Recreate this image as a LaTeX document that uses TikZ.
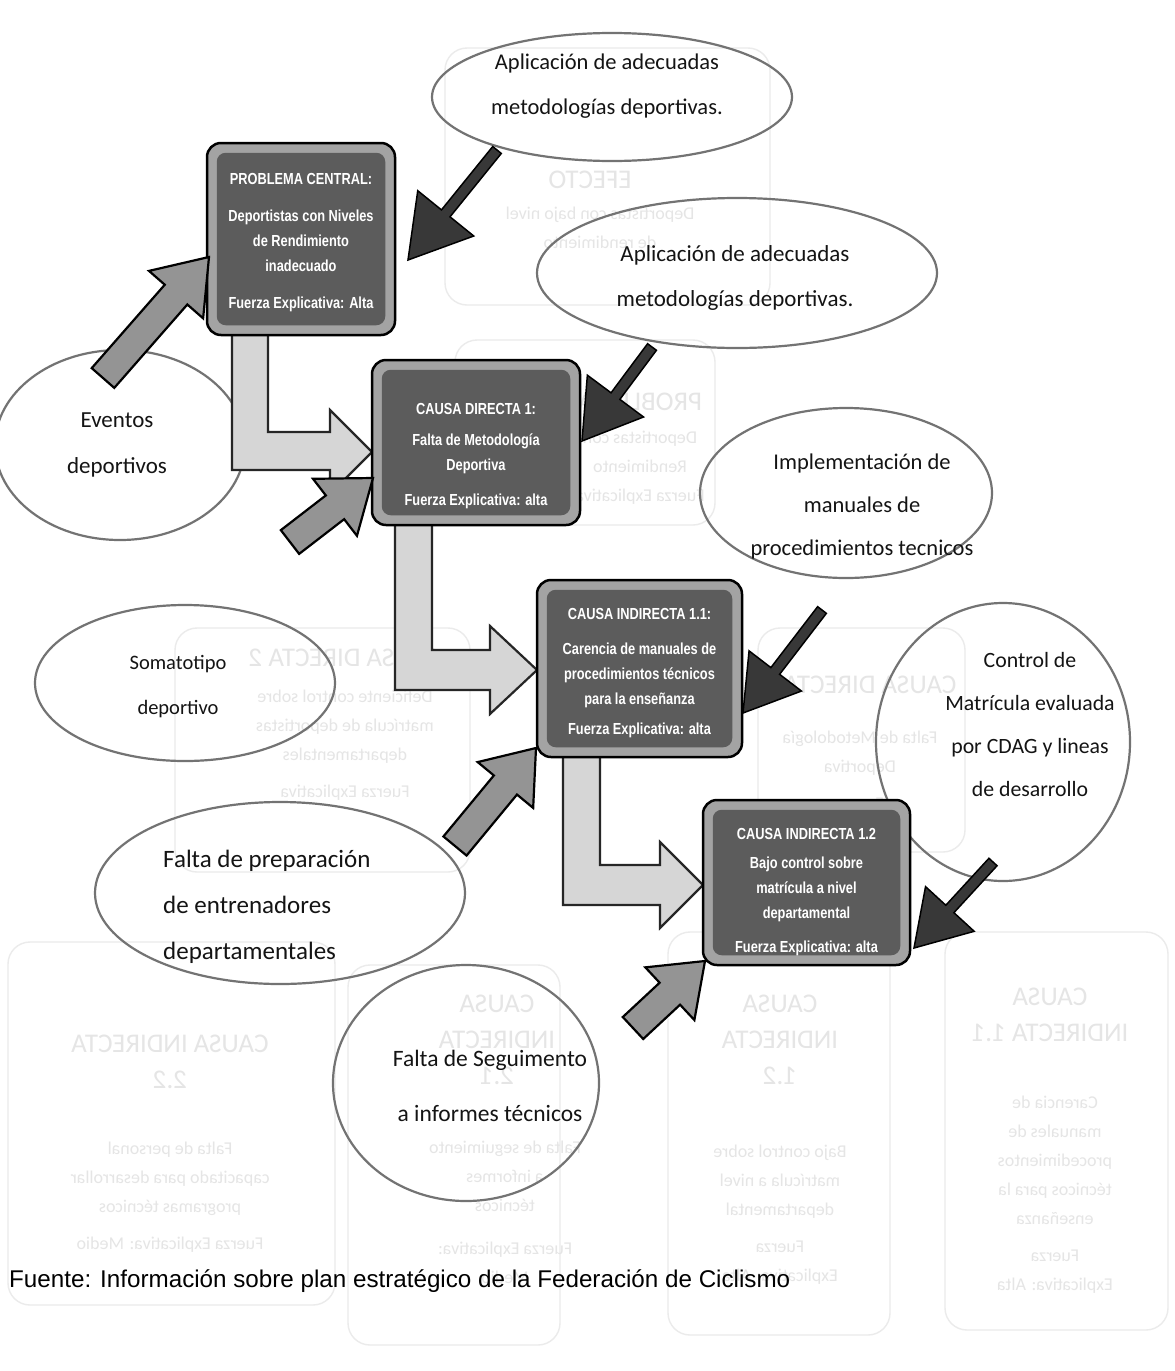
\documentclass[tikz,border=0pt]{standalone}
\usepackage{fontspec}
\setmainfont{Carlito}
\newfontfamily\boxfont[FakeStretch=0.8]{Liberation Sans}
\newfontfamily\srcfont{Liberation Sans}
\usetikzlibrary{calc,shapes.geometric}

% block arrow: #1 style, #2 tail, #3 tip, #4 shaft half width, #5 head half width, #6 head length
\newcommand\blockarrow[6]{%
  \coordinate (ah) at ($(#3)!#6!(#2)$);
  \draw[#1] (#3) -- ($(ah)!#5!90:(#3)$) -- ($(ah)!#4!90:(#3)$)
    -- ($(#2)!#4!90:(#3)$) -- ($(#2)!#4!-90:(#3)$)
    -- ($(ah)!#4!-90:(#3)$) -- ($(ah)!#5!-90:(#3)$) -- cycle;
}

\tikzset{
  ghostbox/.style={draw=black!8, line width=1.4pt, rounded corners=22pt},
  ghosttext/.style={text=black!10, align=center, xscale=-1, inner sep=0pt,
    font=\fontsize{18}{29}\selectfont},
  ghosthead/.style={ghosttext, font=\fontsize{27}{36}\selectfont},
  idea/.style={ellipse, draw=black!55, line width=2.2pt, inner sep=0pt},
  ideatext/.style={align=center, inner sep=0pt, text=black!92,
    font=\fontsize{22.5}{45}\selectfont},
  cbox/.style={draw=black, line width=2.5pt, fill=black!36, rounded corners=14pt, inner sep=0pt},
  cboxin/.style={fill=black!64, rounded corners=9pt},
  btext/.style={text=white, align=center, inner sep=0pt,
    font=\boxfont\bfseries\fontsize{16}{25}\selectfont},
  larrow/.style={fill=black!16, draw=black!85, line width=2.2pt, line join=miter},
  garrow/.style={fill=black!42, draw=black, line width=2.2pt, line join=miter},
  darrow/.style={fill=black!78, draw=black, line width=1.5pt, line join=miter},
}

\begin{document}
\begin{tikzpicture}[x=1pt,y=-1pt]
\fill[white] (0,0) rectangle (1175,1371);
\useasboundingbox (0,0) rectangle (1175,1371);

% faint show-through of the reverse page
\draw[ghostbox] (445,48) rectangle (770,305);
\draw[ghostbox] (455,340) rectangle (715,525);
\draw[ghostbox] (175,628) rectangle (470,872);
\draw[ghostbox] (758,628) rectangle (965,852);
\draw[ghostbox] (8,942) rectangle (335,1305);
\draw[ghostbox] (348,965) rectangle (560,1345);
\draw[ghostbox] (668,932) rectangle (890,1335);
\draw[ghostbox] (945,932) rectangle (1168,1330);

\node[ghosthead] (g1h) at (590,180) {EFECTO};
\node[ghosttext] (g1t) at (600,228) {Deportistas con bajo nivel\\de rendimiento};
\node[ghosthead] (g2h) at (640,402) {PROBLEMA};
\node[ghosttext] (g2t) at (640,468) {Deportistas con\\Rendimiento\\Fuerza Explicativa};
\node[ghosthead] (g3h) at (345,658) {CAUSA DIRECTA 2};
\node[ghosttext] (g3t) at (345,745) {Deficiente control sobre\\matrícula de deportistas\\departamentales\\[8pt]Fuerza Explicativa};
\node[ghosthead] (g4h) at (860,685) {CAUSA DIRECTA 1};
\node[ghosttext] (g4t) at (860,770) {Falta de Metodología\\Deportiva\\[8pt]Fuerza};
\node[ghosthead] (g5h) at (170,1062) {CAUSA INDIRECTA\\2.2};
\node[ghosttext] (g5t) at (170,1197) {Falta de personal\\capacitado para desarrollar\\programas técnicos\\[8pt]Fuerza Explicativa: Medio};
\node[ghosthead] (g6h) at (497,1040) {CAUSA\\INDIRECTA\\2.1};
\node[ghosttext] (g6t) at (505,1212) {Falta de seguimiento\\a informes\\técnicos\\[14pt]Fuerza Explicativa:\\Medio};
\node[ghosthead] (g7h) at (780,1040) {CAUSA\\INDIRECTA\\1.2};
\node[ghosttext] (g7t) at (780,1215) {Bajo control sobre\\matrícula a nivel\\departamental\\[8pt]Fuerza\\Explicativa: Alta};
\node[ghosthead] (g8h) at (1050,1015) {CAUSA\\INDIRECTA 1.1};
\node[ghosttext] (g8t) at (1055,1195) {Carencia de\\manuales de\\procedimientos\\técnicos para la\\enseñanza\\[8pt]Fuerza\\Explicativa: Alta};

% idea ellipses
\node[idea, minimum width=360pt, minimum height=128pt] (e1) at (612,97) {};
\node[idea, minimum width=400pt, minimum height=150pt] (e2) at (737,273) {};
\node[idea, minimum width=292pt, minimum height=170pt] (e3) at (846,493) {};
\node[idea, minimum width=254pt, minimum height=278pt] (e4) at (1003,742) {};
\node[idea, minimum width=250pt, minimum height=190pt] (e5) at (120,445) {};
\node[idea, minimum width=300pt, minimum height=156pt] (e6) at (185,683) {};
\node[idea, minimum width=370pt, minimum height=182pt] (e7) at (280,893) {};
\node[idea, minimum width=266pt, minimum height=236pt] (e8) at (466,1083) {};

% bent arrows from each box to the next one
\draw[larrow] (232,330) -- (232,470) -- (330,470) -- (330,494) -- (372,452)
  -- (330,410) -- (330,432) -- (268,432) -- (268,330) -- cycle;
\draw[larrow] (395,520) -- (395,690) -- (490,690) -- (490,714) -- (537,670)
  -- (490,626) -- (490,650) -- (432,650) -- (432,520) -- cycle;
\draw[larrow] (563,752) -- (563,905) -- (660,905) -- (660,928) -- (703,885)
  -- (660,842) -- (660,865) -- (600,865) -- (600,752) -- cycle;

% problem and cause boxes
\node[cbox, minimum width=188pt, minimum height=192pt] (b1) at (301,239) {};
\fill[cboxin] ($(b1.north west)+(11,11)$) rectangle ($(b1.south east)+(-11,-11)$);
\node[cbox, minimum width=208pt, minimum height=165pt] (b2) at (476,442.5) {};
\fill[cboxin] ($(b2.north west)+(11,11)$) rectangle ($(b2.south east)+(-11,-11)$);
\node[cbox, minimum width=205pt, minimum height=177pt] (b3) at (639.5,668.5) {};
\fill[cboxin] ($(b3.north west)+(11,11)$) rectangle ($(b3.south east)+(-11,-11)$);
\node[cbox, minimum width=207pt, minimum height=165pt] (b4) at (806.5,882.5) {};
\fill[cboxin] ($(b4.north west)+(11,11)$) rectangle ($(b4.south east)+(-11,-11)$);

\node[btext] (b1t) at (301,243) {PROBLEMA CENTRAL:\\[12pt]Deportistas con Niveles\\de Rendimiento\\inadecuado\\[12pt]Fuerza Explicativa: Alta};
\node[btext] (b2t) at (476,456) {CAUSA DIRECTA 1:\\[6pt]Falta de Metodología\\Deportiva\\[10pt]Fuerza Explicativa: alta};
\node[btext] (b3t) at (639.5,673) {CAUSA INDIRECTA 1.1:\\[10pt]Carencia de manuales de\\procedimientos técnicos\\para la enseñanza\\[5pt]Fuerza Explicativa: alta};
\node[btext] (b4t) at (806.5,892) {CAUSA INDIRECTA 1.2\\[4pt]Bajo control sobre\\matrícula a nivel\\departamental\\[9pt]Fuerza Explicativa: alta};

% grey arrows pointing up into the boxes
\coordinate (l1s) at (103,378);  \coordinate (l1t) at (209,257);
\coordinate (l2s) at (290,542);  \coordinate (l2t) at (373,478);
\coordinate (l3s) at (455,846);  \coordinate (l3t) at (536,748);
\coordinate (l4s) at (633,1028); \coordinate (l4t) at (705,961);
\blockarrow{garrow}{l1s}{l1t}{15pt}{36pt}{50pt}
\blockarrow{garrow}{l2s}{l2t}{15pt}{36pt}{48pt}
\blockarrow{garrow}{l3s}{l3t}{15pt}{36pt}{48pt}
\blockarrow{garrow}{l4s}{l4t}{15pt}{36pt}{48pt}

% dark arrows from the proposals down to the boxes
\coordinate (a1s) at (497,150); \coordinate (a1t) at (408,260);
\coordinate (a2s) at (652,347); \coordinate (a2t) at (582,441);
\coordinate (a3s) at (822,610); \coordinate (a3t) at (743,713);
\coordinate (a4s) at (993,862); \coordinate (a4t) at (914,948);
\blockarrow{darrow}{a1s}{a1t}{5.5pt}{36pt}{60pt}
\blockarrow{darrow}{a2s}{a2t}{5.5pt}{35pt}{56pt}
\blockarrow{darrow}{a3s}{a3t}{5.5pt}{33pt}{53pt}
\blockarrow{darrow}{a4s}{a4t}{5.5pt}{33pt}{53pt}

% texts of the ellipses
\node[ideatext] (e1t) at (607,86) {Aplicación de adecuadas\\metodologías deportivas.};
\node[ideatext, font=\fontsize{23}{45}\selectfont] (e2t) at (735,278) {Aplicación de adecuadas\\metodologías deportivas.};
\node[ideatext, font=\fontsize{22.5}{43}\selectfont] (e3t) at (862,506) {Implementación de\\manuales de\\procedimientos tecnicos};
\node[ideatext, font=\fontsize{21.8}{43}\selectfont] (e4t) at (1030,725) {Control de\\Matrícula evaluada\\por CDAG y lineas\\de desarrollo};
\node[ideatext, font=\fontsize{23}{46}\selectfont] (e5t) at (117,445) {Eventos\\deportivos};
\node[ideatext, font=\fontsize{20.5}{45}\selectfont] (e6t) at (178,687) {Somatotipo\\deportivo};
\node[ideatext, align=left, anchor=west, font=\fontsize{25}{46}\selectfont] (e7t) at (163,907) {Falta de preparación\\de entrenadores\\departamentales};
\node[ideatext, font=\fontsize{23.5}{55}\selectfont] (e8t) at (490,1086) {Falta de Seguimento\\a informes técnicos};

% source line
\node[anchor=west, inner sep=0pt, font=\srcfont\fontsize{24.2}{28}\selectfont] (src) at (9,1281)
  {Fuente: Información sobre plan estratégico de la Federación de Ciclismo};
\end{tikzpicture}
\end{document}
